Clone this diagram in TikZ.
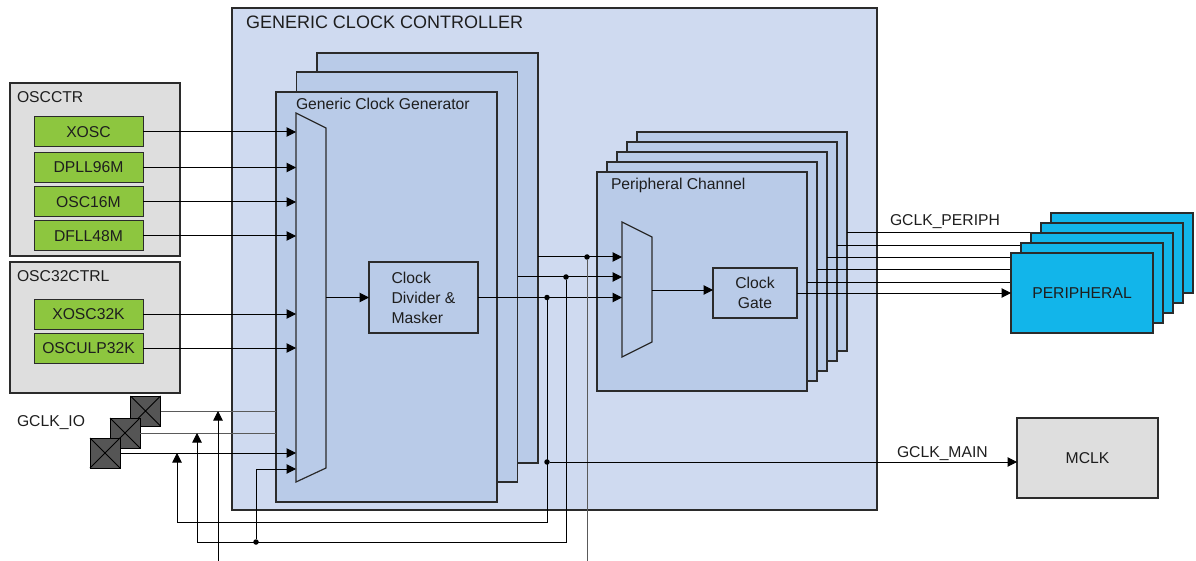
\documentclass[tikz,border=0pt]{standalone}
\usepackage{fontspec}
\setmainfont{Liberation Sans}
\usetikzlibrary{arrows.meta}
\definecolor{gccblue}{HTML}{CFDAF0}
\definecolor{stackblue}{HTML}{B9CBE8}
\definecolor{oscgray}{HTML}{DEDEDE}
\definecolor{oscgreen}{HTML}{8DC63F}
\definecolor{perblue}{HTML}{12B5EA}
\definecolor{padgray}{HTML}{555555}
\definecolor{edge}{HTML}{2B2B2B}
\definecolor{txt}{HTML}{1E1E1E}
\definecolor{wiregray}{HTML}{5A5A5A}
\begin{document}
\begin{tikzpicture}[x=1pt,y=-1pt,
  every node/.style={font=\fontsize{15.7}{19}\selectfont, text=txt, inner sep=0pt, outer sep=0pt},
  blk/.style={draw=edge, line width=1.2pt},
  gccbox/.style={blk, fill=gccblue},
  stackbox/.style={blk, fill=stackblue, minimum width=221, minimum height=410},
  pcbox/.style={blk, fill=stackblue, minimum width=210, minimum height=219},
  oscbox/.style={blk, fill=oscgray, minimum width=170},
  greenbox/.style={blk, line width=1pt, fill=oscgreen, minimum width=109, minimum height=30},
  perbox/.style={blk, fill=perblue, minimum width=142, minimum height=80},
  padbox/.style={draw=black, line width=1pt, fill=padgray, minimum width=30, minimum height=30},
  innerbox/.style={blk, fill=stackblue},
  wire/.style={draw=black, line width=1pt},
  gwire/.style={draw=wiregray, line width=1pt},
  arr/.style={wire, -{Triangle[length=9.5pt,width=9.5pt]}},
  dot/.style={circle, fill=black, minimum size=5.5, inner sep=0pt},
  lbl/.style={anchor=base west}
]
\useasboundingbox (0,0) rectangle (1196,561);

% Generic clock controller
\node[gccbox, minimum width=645, minimum height=502, anchor=north west] (gcc) at (232,8) {};
\node[lbl, font=\fontsize{18}{21}\selectfont] (tgcc) at (246,29) {GENERIC CLOCK CONTROLLER};

% Oscillator controllers
\node[oscbox, minimum height=173] (oscctr) at (95,169.5) {};
\node[lbl] (toscctr) at (17,103) {OSCCTR};
\node[oscbox, minimum height=131] (osc32) at (95,327.5) {};
\node[lbl] (tosc32) at (17,282) {OSC32CTRL};
\node[greenbox] (xosc) at (88.5,132) {XOSC};
\node[greenbox] (dpll) at (88.5,167.5) {DPLL96M};
\node[greenbox] (osc16) at (88.5,202) {OSC16M};
\node[greenbox] (dfll) at (88.5,236) {DFLL48M};
\node[greenbox] (xosc32) at (88.5,314) {XOSC32K};
\node[greenbox] (osculp) at (88.5,348) {OSCULP32K};

% Generic clock generator stack
\node[stackbox] (gcgB) at (427.5,258) {};
\node[stackbox] (gcgM) at (407,277) {};
\node[stackbox] (gcgF) at (386.5,297) {};
\node[lbl] (tgcg) at (296,110) {Generic Clock Generator};
\coordinate (mA1) at (296,113);
\coordinate (mA2) at (326,128);
\coordinate (mA3) at (326,468);
\coordinate (mA4) at (296,482);
\draw[blk, fill=stackblue] (mA1) -- (mA2) -- (mA3) -- (mA4) -- cycle;
\coordinate (mAin) at (296,0);
\coordinate (mAout) at (326,297.5);
\node[innerbox, minimum width=109, minimum height=71, align=left,
  font=\fontsize{15.7}{20}\selectfont] (div) at (423.5,297.5) {Clock\\Divider \&\\Masker};

% Peripheral channel stack
\node[pcbox] (pc4) at (742,241.5) {};
\node[pcbox] (pc3) at (732,251.5) {};
\node[pcbox] (pc2) at (722,261.5) {};
\node[pcbox] (pc1) at (712,271.5) {};
\node[pcbox] (pc0) at (702,281.5) {};
\node[lbl] (tpc) at (611,190) {Peripheral Channel};
\coordinate (mB1) at (622,222);
\coordinate (mB2) at (652,237);
\coordinate (mB3) at (652,342);
\coordinate (mB4) at (622,357);
\draw[blk, fill=stackblue] (mB1) -- (mB2) -- (mB3) -- (mB4) -- cycle;
\coordinate (pin1) at (622,257);
\coordinate (pin2) at (622,277);
\coordinate (pin3) at (622,297.5);
\coordinate (mBout) at (652,290);
\node[innerbox, minimum width=84, minimum height=50, align=center,
  font=\fontsize{15.7}{19.5}\selectfont] (cg) at (755,293) {Clock\\Gate};

% MCLK
\node[blk, fill=oscgray, minimum width=141, minimum height=80] (mclk) at (1087.5,458) {MCLK};

% inputs to generator mux
\draw[arr] (xosc.east) -- (xosc.east -| mAin);
\draw[arr] (dpll.east) -- (dpll.east -| mAin);
\draw[arr] (osc16.east) -- (osc16.east -| mAin);
\draw[arr] (dfll.east) -- (dfll.east -| mAin);
\draw[arr] (xosc32.east) -- (xosc32.east -| mAin);
\draw[arr] (osculp.east) -- (osculp.east -| mAin);

% GCLK_IO pads
\node[padbox] (pad1) at (145.5,411) {};
\draw[black, line width=0.8pt] (pad1.north west) -- (pad1.south east) (pad1.north east) -- (pad1.south west);
\node[padbox] (pad2) at (125,433) {};
\draw[black, line width=0.8pt] (pad2.north west) -- (pad2.south east) (pad2.north east) -- (pad2.south west);
\node[padbox] (pad3) at (105,453) {};
\draw[black, line width=0.8pt] (pad3.north west) -- (pad3.south east) (pad3.north east) -- (pad3.south west);
\node[lbl] (tio) at (17,426) {GCLK\_IO};
\draw[gwire] (pad1.east) -- (pad1.east -| gcgF.west);
\draw[gwire] (pad2.east) -- (pad2.east -| gcgF.west);
\draw[arr] (pad3.east) -- (pad3.east -| mAin);

% mux -> divider
\draw[arr] (mAout) -- (div.west);

% generator outputs to channel mux
\draw[arr] (gcgB.east |- pin1) -- (pin1);
\draw[arr] (gcgM.east |- pin2) -- (pin2);
\draw[arr] (div.east) -- (pin3);

% junctions and feedback
\node[dot] (j1) at (587,257) {};
\node[dot] (j2) at (566,277) {};
\node[dot] (j3) at (547,297.5) {};
\node[dot] (j4) at (547,462) {};
\coordinate (b1) at (218,561);
\coordinate (b4) at (587,561);
\coordinate (c2) at (197,542);
\coordinate (c3) at (177,522);
\node[dot] (j5) at (256,542) {};
\coordinate (mBin) at (296,469);
\draw[gwire] (j1) -- (b4);
\draw[arr] (b1) -- (b1 |- pad1.east);
\draw[arr] (j2) |- (c2) -- (c2 |- pad2.east);
\draw[arr] (j3) |- (c3) -- (c3 |- pad3.east);
\draw[arr] (j5) |- (mBin);
\draw[arr] (j4) -- (j4 -| mclk.west);
\node[lbl] (tmain) at (897,457) {GCLK\_MAIN};

% channel internals
\draw[arr] (mBout) -- (mBout -| cg.west);

% peripheral outputs
\coordinate (o0) at (0,282);
\coordinate (o1) at (0,270);
\coordinate (o2) at (0,258);
\coordinate (o3) at (0,246);
\coordinate (o4) at (0,233);
\coordinate (pe0) at (1011,0);
\coordinate (pe1) at (1021,0);
\coordinate (pe2) at (1031,0);
\draw[wire] (pc0.east |- o0) -- (pe0 |- o0);
\draw[wire] (pc1.east |- o1) -- (pe0 |- o1);
\draw[wire] (pc2.east |- o2) -- (pe0 |- o2);
\draw[wire] (pc3.east |- o3) -- (pe1 |- o3);
\draw[wire] (pc4.east |- o4) -- (pe2 |- o4);
\node[lbl] (tper) at (890,226) {GCLK\_PERIPH};

% peripherals
\node[perbox] (per4) at (1122,253) {};
\node[perbox] (per3) at (1112,263) {};
\node[perbox] (per2) at (1102,273) {};
\node[perbox] (per1) at (1092,283) {};
\node[perbox] (per0) at (1082,293) {PERIPHERAL};
\draw[arr] (cg.east) -- (cg.east -| per0.west);
\end{tikzpicture}
\end{document}
